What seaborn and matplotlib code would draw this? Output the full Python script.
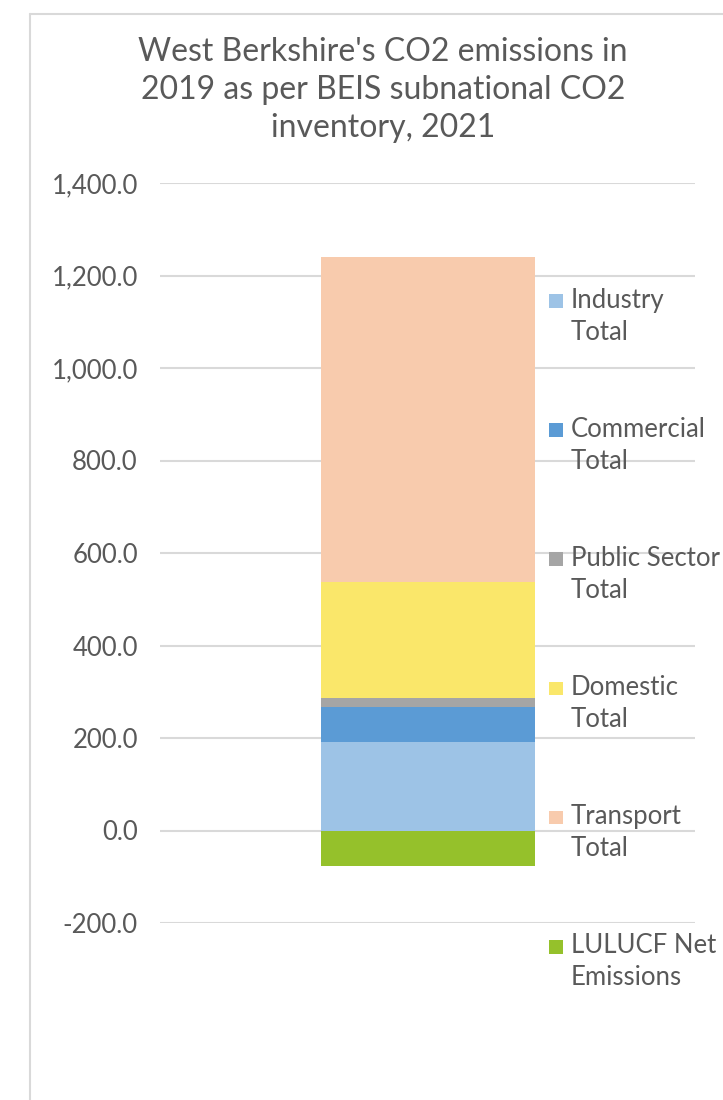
import matplotlib
matplotlib.use("Agg")
import matplotlib.pyplot as plt
import seaborn as sns
import numpy as np
from matplotlib.patches import Rectangle
from matplotlib.legend_handler import HandlerPatch
from matplotlib.lines import Line2D

# Sector emissions for West Berkshire, 2019 (kt CO2)
sectors = ["Industry Total", "Commercial Total", "Public Sector Total",
           "Domestic Total", "Transport Total", "LULUCF Net Emissions"]
legend_labels = ["Industry\nTotal", "Commercial\nTotal", "Public Sector\nTotal",
                 "Domestic\nTotal", "Transport\nTotal", "LULUCF Net\nEmissions"]
emissions = [192.0, 74.0, 21.5, 250.5, 701.0, -76.0]
colors = ["#9DC3E6", "#5B9BD5", "#A5A5A5", "#FAE76A", "#F8CBAD", "#95C12B"]
year = ["2019"]
y_ticks = [-200, 0, 200, 400, 600, 800, 1000, 1200, 1400]
title = "West Berkshire's CO2 emissions in\n2019 as per BEIS subnational CO2\ninventory, 2021"

TEXT = "#595959"
GRID = "#D9D9D9"

sns.set_theme(style="white")
plt.rcParams["font.family"] = ["Lato", "DejaVu Sans"]

W, H = 723, 1100
fig = plt.figure(figsize=(W / 100, H / 100), dpi=100)
ax = fig.add_axes([160 / W, 1 - 923 / H, (695 - 160) / W, (923 - 183) / H])

# Stacked positive sectors: draw running totals from the top down
positive = emissions[:5]
running = np.cumsum(positive)
for i in reversed(range(len(positive))):
    sns.barplot(x=year, y=[running[i]], color=colors[i], saturation=1,
                width=0.4, linewidth=0, ax=ax, zorder=2)
# Net sink below zero
sns.barplot(x=year, y=[emissions[5]], color=colors[5], saturation=1,
            width=0.4, linewidth=0, ax=ax, zorder=2)

ax.set_xlim(-0.5, 0.5)
ax.set_ylim(y_ticks[0], y_ticks[-1])
ax.set_yticks(y_ticks)
ax.set_yticklabels([f"{v:,.1f}" for v in y_ticks])
ax.set_xticks([])
ax.set_xlabel("")
ax.set_ylabel("")
ax.tick_params(axis="y", length=0, pad=16, labelsize=18.5, labelcolor=TEXT)
ax.yaxis.grid(True, color=GRID, linewidth=1.5)
ax.set_axisbelow(True)
for s in ax.spines.values():
    s.set_visible(False)

fig.text(383 / W, 1 - 37 / H, title, ha="center", va="top", fontsize=23,
         color=TEXT, linespacing=1.34)

# Chart frame
fig.add_artist(Line2D([30 / W, 1.0], [1 - 14 / H] * 2, transform=fig.transFigure,
                      color=GRID, linewidth=1.5))
fig.add_artist(Line2D([30 / W] * 2, [0.0, 1 - 14 / H], transform=fig.transFigure,
                      color=GRID, linewidth=1.5))


class FirstLineSquare(HandlerPatch):
    """Square swatch placed beside the first line of a two-line label."""

    def __init__(self, size, lift, **kw):
        super().__init__(**kw)
        self.size = size
        self.lift = lift

    def create_artists(self, legend, orig_handle, xdescent, ydescent,
                       width, height, fontsize, trans):
        p = Rectangle((-xdescent, -ydescent + self.lift), self.size, self.size,
                      facecolor=orig_handle.get_facecolor(), linewidth=0,
                      transform=trans)
        return [p]


handles = [Rectangle((0, 0), 1, 1, facecolor=c) for c in colors]
handler = FirstLineSquare(size=10.0, lift=13.0)
leg = ax.legend(handles, legend_labels, loc="upper left",
                bbox_to_anchor=(549 / W, 1 - 288 / H),
                bbox_transform=fig.transFigure, frameon=False,
                fontsize=18.5, labelcolor=TEXT, borderpad=0, borderaxespad=0,
                handlelength=0.54, handletextpad=0.3, labelspacing=2.82,
                handler_map={Rectangle: handler})
for t in leg.get_texts():
    t.set_linespacing(1.33)

fig.savefig("out.png", dpi=100)
